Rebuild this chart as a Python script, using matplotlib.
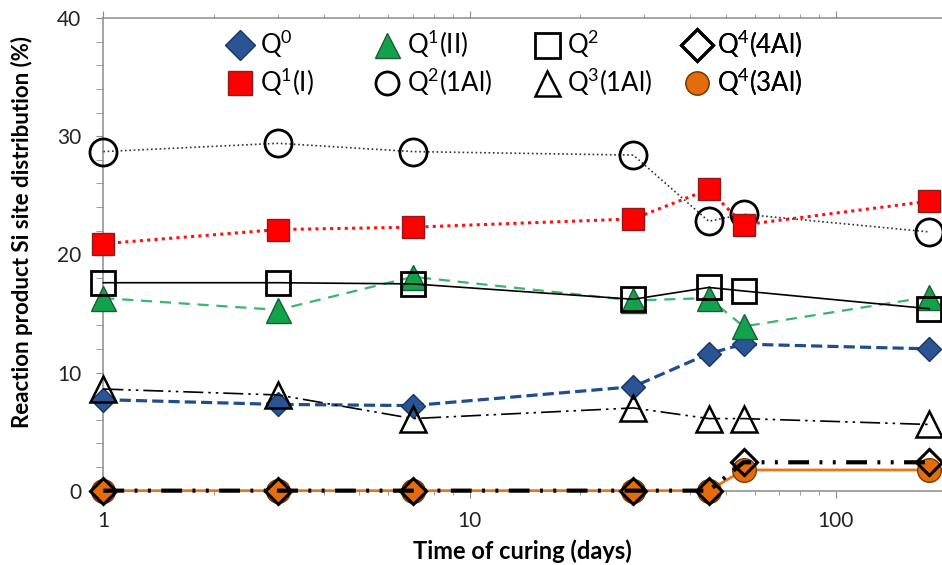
import numpy as np
import matplotlib.pyplot as plt
from matplotlib.lines import Line2D
from matplotlib.ticker import LogLocator, MultipleLocator, FixedLocator, NullFormatter

plt.rcParams['font.family'] = ['Lato', 'DejaVu Sans']
plt.rcParams['mathtext.fontset'] = 'custom'
plt.rcParams['mathtext.rm'] = 'Lato'

# Tiempo de curado (días)
dias = [1, 3, 7, 28, 45, 56, 180]

# Distribución de sitios Si (%)
q0 = [7.7, 7.3, 7.2, 8.8, 11.6, 12.4, 12.0]
q1_i = [20.9, 22.1, 22.3, 23.0, 25.5, 22.5, 24.5]
q1_ii = [16.3, 15.3, 18.1, 16.1, 16.3, 13.9, 16.4]
q2_1al = [28.7, 29.4, 28.7, 28.4, 22.8, 23.4, 21.9]
q2 = [17.6, 17.6, 17.5, 16.2, 17.2, 16.9, 15.4]
q3_1al = [8.6, 8.1, 6.1, 7.0, 6.1, 6.1, 5.6]
q4_3al = [0, 0, 0, 0, 0, 1.75, 1.75]
q4_4al = [0, 0, 0, 0, 0, 2.4, 2.4]

fig = plt.figure(figsize=(9.42, 5.65), dpi=100)
ax = fig.add_axes([0.1097, 0.1316, 0.8903, 0.8364])

# estilos de marcador (también usados en la leyenda)
m_q0 = dict(marker='D', mfc='#2B5494', mec='#1A355F', mew=1)
m_q1i = dict(marker='s', mfc='#FF0000', mec='#8B1A1A', mew=1)
m_q1ii = dict(marker='^', mfc='#12A24C', mec='#1B5E33', mew=1)
m_q21 = dict(marker='o', mfc='none', mec='black', mew=2)
m_q2 = dict(marker='s', mfc='none', mec='black', mew=2)
m_q31 = dict(marker='^', mfc='none', mec='black', mew=1.8)
m_q43 = dict(marker='o', mfc='#E46C0A', mec='#7A3A08', mew=1)
m_q44 = dict(marker='D', mfc='none', mec='black', mew=2.2)

ax.plot(dias, q0, color='#1F4E8C', lw=2.3, dashes=(3.5, 1.6), ms=11.8,
        clip_on=False, zorder=3, **m_q0)
ax.plot(dias, q2_1al, color='#333333', lw=1.2, ls=(0, (1, 1.6)), ms=19.5,
        clip_on=False, zorder=3, **m_q21)
ax.plot(dias, q1_i, color='#FF1010', lw=2.2, ls=(0, (1, 1.4)), ms=16,
        clip_on=False, zorder=3, **m_q1i)
ax.plot(dias, q1_ii, color='#3DB36B', lw=1.6, dashes=(5, 3.5), ms=18,
        clip_on=False, zorder=3, **m_q1ii)
ax.plot(dias, q2, color='black', lw=1.2, ls='-', ms=16.6,
        clip_on=False, zorder=3, **m_q2)
ax.plot(dias, q3_1al, color='black', lw=1.2, dashes=(12, 3, 1.5, 3, 1.5, 3), ms=19,
        clip_on=False, zorder=3, **m_q31)
ax.plot(dias, q4_3al, color='#E8761E', lw=2, ms=17,
        clip_on=False, zorder=4, **m_q43)
ax.plot(dias, q4_4al, color='black', lw=3, dashes=(5, 2.5, 0.7, 2.5, 0.7, 2.5), ms=13.7,
        clip_on=False, zorder=5, **m_q44)

ax.set_xscale('log')
ax.set_xlim(1, 195)
ax.set_ylim(0, 40)

ax.xaxis.set_major_locator(FixedLocator([1, 10, 100]))
ax.xaxis.set_major_formatter(plt.FuncFormatter(lambda v, p: f'{v:g}'))
ax.xaxis.set_minor_locator(LogLocator(base=10, subs=np.arange(2, 10)))
ax.xaxis.set_minor_formatter(NullFormatter())
ax.yaxis.set_major_locator(MultipleLocator(10))
ax.yaxis.set_minor_locator(MultipleLocator(2))

for s in ['left', 'top', 'bottom']:
    ax.spines[s].set_color('#8C8C8C')
    ax.spines[s].set_linewidth(1.1)
ax.spines['right'].set_visible(False)

ax.tick_params(axis='x', which='major', direction='out', top=True, bottom=True,
               length=5, color='#8C8C8C', labelsize=15, pad=10,
               labelcolor='#222222')
ax.tick_params(axis='x', which='minor', direction='out', top=True, bottom=True,
               length=3.2, color='#8C8C8C')
ax.tick_params(axis='y', which='major', direction='out', length=5,
               color='#8C8C8C', labelsize=15, pad=11, labelcolor='#222222')
ax.tick_params(axis='y', which='minor', direction='out', length=5,
               color='#8C8C8C')

ax.set_xlabel('Time of curing (days)', fontsize=17, fontweight='bold', labelpad=6)
ax.set_ylabel('Reaction product Si site distribution (%)', fontsize=16,
              fontweight='bold')
ax.yaxis.set_label_coords(-0.084, 0.548)

# leyenda: cuatro columnas de dos entradas cada una
columnas = [
    [(m_q0, 15.3, r'Q$^\mathregular{0}$'), (m_q1i, 16.6, r'Q$^\mathregular{1}$(I)')],
    [(m_q1ii, 18, r'Q$^\mathregular{1}$(II)'), (m_q21, 16.6, r'Q$^\mathregular{2}$(1Al)')],
    [(m_q2, 18, r'Q$^\mathregular{2}$'), (m_q31, 18, r'Q$^\mathregular{3}$(1Al)')],
    [(m_q44, 16.3, r'Q$^\mathregular{4}$(4Al)'), (m_q43, 16.6, r'Q$^\mathregular{4}$(3Al)')],
]
x_col = [227, 374, 534, 684]
for xc, col in zip(x_col, columnas):
    hs = [Line2D([], [], ls='none', ms=ms, **st) for st, ms, _ in col]
    lb = [t for _, _, t in col]
    leg = ax.legend(hs, lb, loc='upper left', bbox_to_anchor=(xc / 942, 1 - 27 / 565),
                    bbox_transform=fig.transFigure, frameon=False, fontsize=18.5,
                    handlelength=1.0, handletextpad=0.3, labelspacing=0.22,
                    borderpad=0, borderaxespad=0)
    ax.add_artist(leg)

fig.savefig('out.png', dpi=100)
